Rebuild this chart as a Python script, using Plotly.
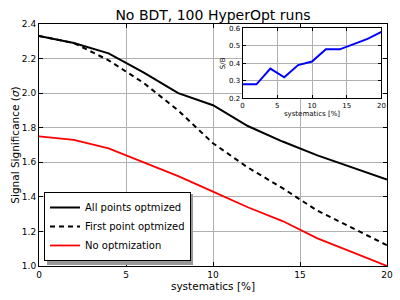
import plotly.graph_objects as go

systematics = [0, 2, 4, 6, 8, 10, 12, 14, 16, 18, 20]
all_points = [2.33, 2.29, 2.23, 2.12, 2.00, 1.93, 1.81, 1.72, 1.64, 1.57, 1.50]
first_point = [2.33, 2.29, 2.19, 2.06, 1.90, 1.71, 1.57, 1.45, 1.32, 1.22, 1.12]
no_opt = [1.75, 1.73, 1.68, 1.60, 1.52, 1.43, 1.34, 1.26, 1.16, 1.08, 1.00]
s_over_b = [0.28, 0.28, 0.37, 0.32, 0.39, 0.41, 0.48, 0.48, 0.51, 0.54, 0.58]

main_yticks = [1.0, 1.2, 1.4, 1.6, 1.8, 2.0, 2.2, 2.4]
main_xticks = [0, 5, 10, 15, 20]
inset_yticks = [0.2, 0.3, 0.4, 0.5, 0.6]

FONT = "DejaVu Sans"
GRID = "#b0b0b0"

fig = go.Figure()
fig.add_trace(go.Scatter(x=systematics, y=all_points, mode="lines", name="All points optmized",
                         line=dict(color="black", width=2)))
fig.add_trace(go.Scatter(x=systematics, y=first_point, mode="lines", name="First point optmized",
                         line=dict(color="black", width=2, dash="5px,4px")))
fig.add_trace(go.Scatter(x=systematics, y=no_opt, mode="lines", name="No optmization",
                         line=dict(color="red", width=1.8)))
fig.add_trace(go.Scatter(x=systematics, y=s_over_b, mode="lines", showlegend=False,
                         line=dict(color="blue", width=2), xaxis="x2", yaxis="y2"))

axis_common = dict(showline=True, linecolor="black", linewidth=1, mirror="ticks",
                   ticks="inside", tickcolor="black", showgrid=True, gridcolor=GRID,
                   gridwidth=1, zeroline=False, automargin=False)

fig.update_layout(
    width=400, height=300,
    margin=dict(l=39, r=13, t=24, b=34),
    paper_bgcolor="white", plot_bgcolor="white",
    font=dict(family=FONT, size=9, color="black"),
    title=dict(text="No BDT, 100 HyperOpt runs", x=0.5, xref="paper", xanchor="center",
               y=1.0, yref="paper", yanchor="bottom", pad=dict(b=4),
               font=dict(family=FONT, size=14, color="black")),
    xaxis=dict(range=[0, 20], tickvals=main_xticks, ticklen=4,
               title=dict(text="systematics [%]", font=dict(size=10.5), standoff=2),
               domain=[0, 1], **axis_common),
    yaxis=dict(range=[1.0, 2.4], tickvals=main_yticks, tickformat=".1f", ticklen=4,
               title=dict(text="Signal Significance (<i>σ</i>)", font=dict(size=10.5), standoff=0),
               domain=[0, 1], **axis_common),
    xaxis2=dict(range=[0, 20], tickvals=main_xticks, ticklen=3, anchor="y2",
                domain=[0.585, 0.984], tickfont=dict(size=7),
                title=dict(text="systematics [%]", font=dict(size=7), standoff=1),
                **axis_common),
    yaxis2=dict(range=[0.2, 0.6], tickvals=inset_yticks, tickformat=".1f", ticklen=3, anchor="x2",
                domain=[0.693, 0.982], tickfont=dict(size=7),
                title=dict(text="S/B", font=dict(size=7), standoff=2),
                **axis_common),
    legend=dict(x=0.0144, y=0.0207, xanchor="left", yanchor="bottom",
                bgcolor="white", bordercolor="black", borderwidth=1,
                font=dict(family=FONT, size=10), tracegroupgap=0,
                itemwidth=30),
    showlegend=True,
)

# legend drop shadow (sits under the legend box, offset down-right)
fig.add_shape(type="rect", xref="paper", yref="paper", layer="above",
              x0=(47 - 39) / 348, x1=(193 - 39) / 348,
              y0=(266 - 265) / 242, y1=(266 - 194) / 242,
              fillcolor="#999999", line=dict(width=0))

fig.write_html("out.html", config={"displayModeBar": False},
               post_script="document.body.style.margin='0';document.body.style.overflow='hidden';")
